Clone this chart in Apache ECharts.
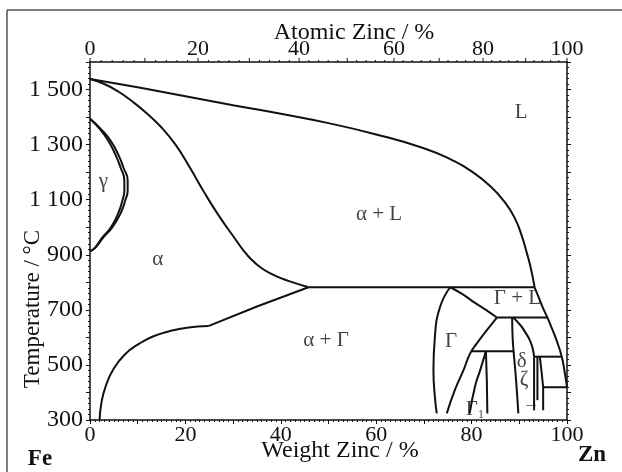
<!DOCTYPE html>
<html>
<head>
<meta charset="utf-8">
<script src="https://cdn.jsdelivr.net/npm/echarts@6/dist/echarts.min.js"></script>
<style>html,body{margin:0;padding:0;background:#fff}#c{width:622px;height:472px}</style>
</head>
<body>
<div id="c"></div>
<script>
// ---------- data (weight % Zn, temperature °C) ----------
const xTickValues = [0, 20, 40, 60, 80, 100];
const xTickLabels = ['0', '20', '40', '60', '80', '100'];
const yTickValues = [300, 500, 700, 900, 1100, 1300, 1500];
const yTickLabels = ['300', '500', '700', '900', '1 100', '1 300', '1 500'];
const atomicTickValues = [0, 10, 20, 30, 40, 50, 60, 70, 80, 90, 100];
const atomicTickLabels = ['0', '', '20', '', '40', '', '60', '', '80', '', '100'];

const liquidusUpper = [[0,1538],[10,1508],[20,1476],[30,1443],[40,1412],[50,1378],[60,1337],[70,1287],[76,1243],[80,1203],[84,1148],[87,1090],[89,1035],[90.4,975],[91.6,905],[92.5,845],[93.2,782]];
const liquidusLower = [[93.2,782],[94.2,740],[95.0,705],[95.9,672],[96.9,630],[97.8,590],[98.9,530],[99.5,475],[100,419]];
const solidusAlpha = [[0,1538],[3,1520],[6,1492],[9,1455],[12,1412],[15,1362],[18,1298],[21,1215],[24,1125],[27,1042],[30,968],[32,920],[34,880],[36,851],[38,831],[40,815],[43,797],[45.8,782]];
const line782 = [[45.8,782],[93.2,782]];
const alphaSolvusUpper = [[45.8,782],[35,712],[24.8,641]];
const alphaSolvusLower = [[24.8,641],[20.3,635],[16.8,623],[13.3,604],[10.4,578],[7.3,538],[4.9,484],[3.3,423],[2.4,363],[2.0,300]];
const gammaOuter = [[0,1394],[2.2,1358],[4.3,1315],[6.0,1261],[7.0,1217],[7.9,1170],[7.9,1134],[7.4,1098],[6.4,1050],[4.7,1000],[2.8,963],[1.2,927],[0,912]];
const gammaInner = [[0,1394],[1.9,1360],[3.8,1315],[5.4,1261],[6.4,1217],[7.2,1170],[7.2,1134],[6.8,1098],[5.9,1050],[4.4,1000],[2.6,963],[1.1,927],[0,912]];
const gammaLeft = [[75.5,782],[73.4,711],[72.3,602],[72.0,481],[72.3,384],[72.7,324]];
const gammaLiquid = [[75.5,782],[78,758],[80.4,729],[83,700],[85.3,672]];
const line672 = [[85.3,672],[95.9,672]];
const gammaRight = [[85.3,672],[83.2,626],[81.1,578],[79.7,542],[78.3,481],[76.5,409],[74.8,324]];
const line550 = [[80.0,550],[88.8,550]];
const gamma1Left = [[83.0,550],[81.8,481],[80.7,421],[79.6,324]];
const gamma1Right = [[83.0,550],[83.2,440],[83.3,324]];
const deltaLeft = [[88.5,672],[88.6,600],[88.8,550],[89.3,450],[89.8,324]];
const deltaRight = [[88.7,672],[90.2,645],[91.2,620],[92.2,590],[92.8,560],[93.1,530]];
const line530 = [[93.1,530],[98.9,530]];
const line419 = [[95.0,419],[100,419]];
const zetaA = [[93.1,530],[93.1,335]];
const zetaB = [[93.8,530],[93.8,372]];
const zetaC = [[94.3,530],[94.7,470],[95.0,419],[95.0,335]];

const phaseLabels = [
  {name:'L', value:[90.4,1415]},
  {name:'α + L', value:[60.6,1045]},
  {name:'α', value:[14.2,882]},
  {name:'γ', value:[2.8,1166]},
  {name:'α + Γ', value:[49.5,590]},
  {name:'Γ', value:[75.7,584]},
  {name:'Γ + L', value:[89.6,740]},
  {name:'δ', value:[90.5,512]},
  {name:'ζ', value:[91.0,446]},
  {name:'Γ1', value:[80.7,338]},
  {name:'→', value:[92.5,360]}
];

// ---------- helpers ----------
const FONT = 'Liberation Serif';
const INK = '#111';
const M_FE = 55.845, M_ZN = 65.38;
function atomicToWeight(a) {
  const z = a * M_ZN, f = (100 - a) * M_FE;
  return 100 * z / (z + f);
}
const atomicTicks = [];
atomicTickValues.forEach((a, i) => atomicTicks.push([atomicToWeight(a), 1, i]));
for (let a = 2; a < 100; a += 2) { if (a % 10 !== 0) atomicTicks.push([atomicToWeight(a), 0, -1]); }

function curve(data, smooth) {
  return {
    type: 'line', data: data, showSymbol: false, symbol: 'none', silent: true,
    smooth: smooth ? 0.5 : false, smoothMonotone: null,
    lineStyle: {color: INK, width: 2}, z: 3, animation: false
  };
}

const chart = echarts.init(document.getElementById('c'), null, {renderer: 'canvas'});
const series = [
  curve(liquidusUpper, true), curve(liquidusLower, true), curve(solidusAlpha, true),
  curve(line782, false), curve(alphaSolvusUpper, false), curve(alphaSolvusLower, true),
  curve(gammaOuter, true), curve(gammaInner, true), curve(gammaLeft, true),
  curve(gammaLiquid, true), curve(line672, false), curve(gammaRight, true),
  curve(line550, false), curve(gamma1Left, true), curve(gamma1Right, false),
  curve(deltaLeft, true), curve(deltaRight, true), curve(line530, false),
  curve(line419, false), curve(zetaA, false), curve(zetaB, false), curve(zetaC, false),
  {
    type: 'scatter', data: phaseLabels, symbolSize: 0, silent: true, z: 5, animation: false,
    label: {
      show: true, position: 'inside', color: INK, fontFamily: FONT, fontSize: 21,
      formatter: p => p.data.name === 'Γ1' ? '{a|Γ}{s|1}' : (p.data.name === '→' ? '{r|→}' : p.data.name),
      rich: {
        a: {fontFamily: FONT, fontSize: 21, color: INK},
        s: {fontFamily: FONT, fontSize: 12, color: INK, verticalAlign: 'bottom', padding: [10, 0, 0, 0]},
        r: {fontFamily: FONT, fontSize: 16, color: INK}
      }
    }
  },
  {
    type: 'custom', data: atomicTicks, clip: false, silent: true, z: 6, animation: false,
    renderItem: function (params, api) {
      const w = api.value(0), major = api.value(1), idx = api.value(2);
      const p = api.coord([w, 1600]);
      const len = major ? 4 : 2;
      const children = [{type: 'line', shape: {x1: p[0], y1: p[1], x2: p[0], y2: p[1] - len},
        style: {stroke: INK, lineWidth: 1}}];
      if (idx >= 0 && atomicTickLabels[idx]) {
        children.push({type: 'text', style: {text: atomicTickLabels[idx], x: p[0], y: p[1] - 13,
          align: 'center', verticalAlign: 'middle', font: '22px "' + FONT + '"', fill: INK}});
      }
      return {type: 'group', children: children};
    }
  }
];

const axisCommon = {
  axisLine: {show: true, onZero: false, lineStyle: {color: INK, width: 1.5}},
  splitLine: {show: false}
};

chart.setOption({
  animation: false,
  backgroundColor: '#fff',
  grid: {left: 90, right: 55, top: 62, bottom: 52},
  xAxis: [
    Object.assign({}, axisCommon, {
      type: 'value', min: 0, max: 100, interval: 10, position: 'bottom',
      axisTick: {show: true, inside: false, length: 4, lineStyle: {color: INK, width: 1}},
      minorTick: {show: true, splitNumber: 10, length: 2, lineStyle: {color: INK, width: 1}},
      axisLabel: {show: true, margin: 4, color: INK, fontFamily: FONT, fontSize: 22,
        formatter: v => { const i = xTickValues.indexOf(v); return i >= 0 ? xTickLabels[i] : ''; }}
    }),
    Object.assign({}, axisCommon, {
      type: 'value', min: 0, max: 100, position: 'top',
      axisTick: {show: false}, axisLabel: {show: false}
    })
  ],
  yAxis: [
    Object.assign({}, axisCommon, {
      type: 'value', min: 300, max: 1600, interval: 100, position: 'left',
      axisTick: {show: true, inside: false, length: 4, lineStyle: {color: INK, width: 1}},
      minorTick: {show: true, splitNumber: 5, length: 2, lineStyle: {color: INK, width: 1}},
      axisLabel: {show: true, margin: 7, color: INK, fontFamily: FONT, fontSize: 24,
        formatter: v => { const i = yTickValues.indexOf(v); return i >= 0 ? yTickLabels[i] : ''; }}
    }),
    Object.assign({}, axisCommon, {
      type: 'value', min: 300, max: 1600, interval: 100, position: 'right',
      axisTick: {show: true, inside: false, length: 4, lineStyle: {color: INK, width: 1}},
      minorTick: {show: true, splitNumber: 5, length: 2, lineStyle: {color: INK, width: 1}},
      axisLabel: {show: false}
    })
  ],
  series: series,
  graphic: [
    {type: 'line', shape: {x1: 7, y1: 10, x2: 630, y2: 10}, style: {stroke: '#555', lineWidth: 1.5}, silent: true},
    {type: 'line', shape: {x1: 7, y1: 10, x2: 7, y2: 480}, style: {stroke: '#555', lineWidth: 1.5}, silent: true},
    {type: 'text', x: 354, y: 33, style: {text: 'Atomic Zinc / %', font: '24px "' + FONT + '"', fill: INK, align: 'center', verticalAlign: 'middle'}, silent: true},
    {type: 'text', x: 340, y: 451, style: {text: 'Weight Zinc / %', font: '24px "' + FONT + '"', fill: INK, align: 'center', verticalAlign: 'middle'}, silent: true},
    {type: 'text', x: 33, y: 309, rotation: Math.PI / 2, style: {text: 'Temperature / °C', font: '23px "' + FONT + '"', fill: INK, align: 'center', verticalAlign: 'middle'}, silent: true},
    {type: 'text', x: 40, y: 459, style: {text: 'Fe', font: 'bold 23px "' + FONT + '"', fill: INK, align: 'center', verticalAlign: 'middle'}, silent: true},
    {type: 'text', x: 592, y: 455, style: {text: 'Zn', font: 'bold 23px "' + FONT + '"', fill: INK, align: 'center', verticalAlign: 'middle'}, silent: true}
  ]
});
</script>
</body>
</html>
